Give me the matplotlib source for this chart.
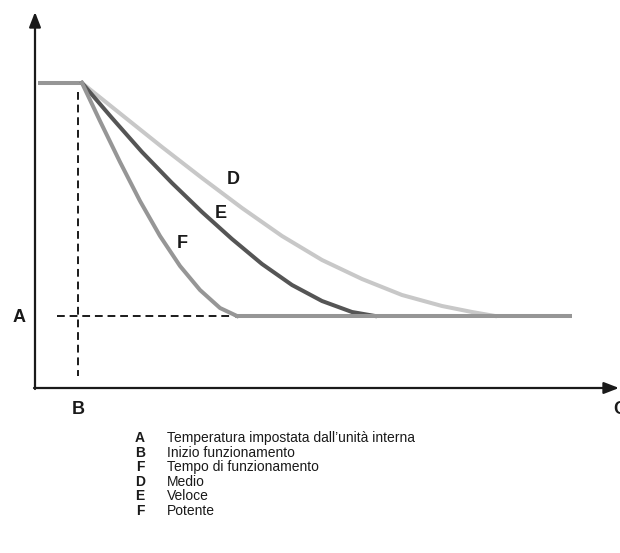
import matplotlib
matplotlib.use("Agg")
import matplotlib.pyplot as plt

plt.rcParams["font.family"] = ["Liberation Sans", "DejaVu Sans"]

# ── data (in pixel-like units, y grows downwards) ────────────────────────────
plateau_x = [38, 82]
plateau_y = [83, 83]
setpoint_y = 316
flat_x = [235, 572]

curve_D_x = [82, 122, 162, 202, 242, 282, 322, 362, 402, 442, 472, 495]
curve_D_y = [83, 115, 147, 178, 208, 236, 260, 279, 295, 306, 312, 316]

curve_E_x = [82, 112, 142, 172, 202, 232, 262, 292, 322, 352, 375]
curve_E_y = [83, 118, 152, 183, 212, 239, 264, 285, 301, 312, 316]

curve_F_x = [82, 100, 120, 140, 160, 180, 200, 220, 237]
curve_F_y = [83, 121, 162, 201, 236, 266, 290, 308, 316]

legend_keys = ["A", "B", "F", "D", "E", "F"]
legend_texts = [
    "Temperatura impostata dall\u2019unità interna",
    "Inizio funzionamento",
    "Tempo di funzionamento",
    "Medio",
    "Veloce",
    "Potente",
]

col_D = "#c8c8c8"
col_E = "#555555"
col_F = "#969696"

# ── layout ────────────────────────────────────────────────────────────────────
fig = plt.figure(figsize=(6.2, 5.53), dpi=100)
ax = fig.add_axes([0, 0, 1, 1])
ax.set_xlim(0, 620)
ax.set_ylim(553, 0)
ax.axis("off")

# axes with arrows
ax.annotate("", xy=(35, 12), xytext=(35, 389),
            arrowprops=dict(arrowstyle="-|>,head_length=0.9,head_width=0.35",
                            color="#1a1a1a", lw=1.6, shrinkA=0, shrinkB=0))
ax.annotate("", xy=(619, 388), xytext=(34, 388),
            arrowprops=dict(arrowstyle="-|>,head_length=0.9,head_width=0.35",
                            color="#1a1a1a", lw=1.6, shrinkA=0, shrinkB=0))

# dashed guides
ax.plot([78, 78], [92, 376], color="#1a1a1a", lw=1.4, ls=(0, (4, 2.5)))
ax.plot([57, 235], [setpoint_y, setpoint_y], color="#1a1a1a", lw=1.4,
        ls=(0, (4, 2.5)))

# curves
lw = 2.9
ax.plot(plateau_x, plateau_y, color=col_F, lw=lw, solid_capstyle="butt")
ax.plot(curve_D_x, curve_D_y, color=col_D, lw=lw, solid_joinstyle="round")
ax.plot(curve_E_x, curve_E_y, color=col_E, lw=lw, solid_joinstyle="round")
ax.plot(curve_F_x, curve_F_y, color=col_F, lw=lw, solid_joinstyle="round")
ax.plot(flat_x, [setpoint_y, setpoint_y], color=col_F, lw=lw,
        solid_capstyle="butt")

# labels
lab = dict(fontsize=13, fontweight="bold", color="#1a1a1a",
           ha="center", va="center")
ax.text(19, 318, "A", **lab)
ax.text(78, 409, "B", **lab)
ax.text(620, 409, "C", **lab)
ax.text(233, 180, "D", **lab)
ax.text(221, 213, "E", **lab)
ax.text(182, 243, "F", **lab)

# legend
y0, dy = 438, 14.6
for i, (k, t) in enumerate(zip(legend_keys, legend_texts)):
    y = y0 + i * dy
    ax.text(140, y, k, fontsize=10, fontweight="bold", color="#1a1a1a",
            ha="center", va="center")
    ax.text(167, y, t, fontsize=10, color="#1a1a1a", ha="left", va="center")

fig.savefig("out.png", dpi=100)
